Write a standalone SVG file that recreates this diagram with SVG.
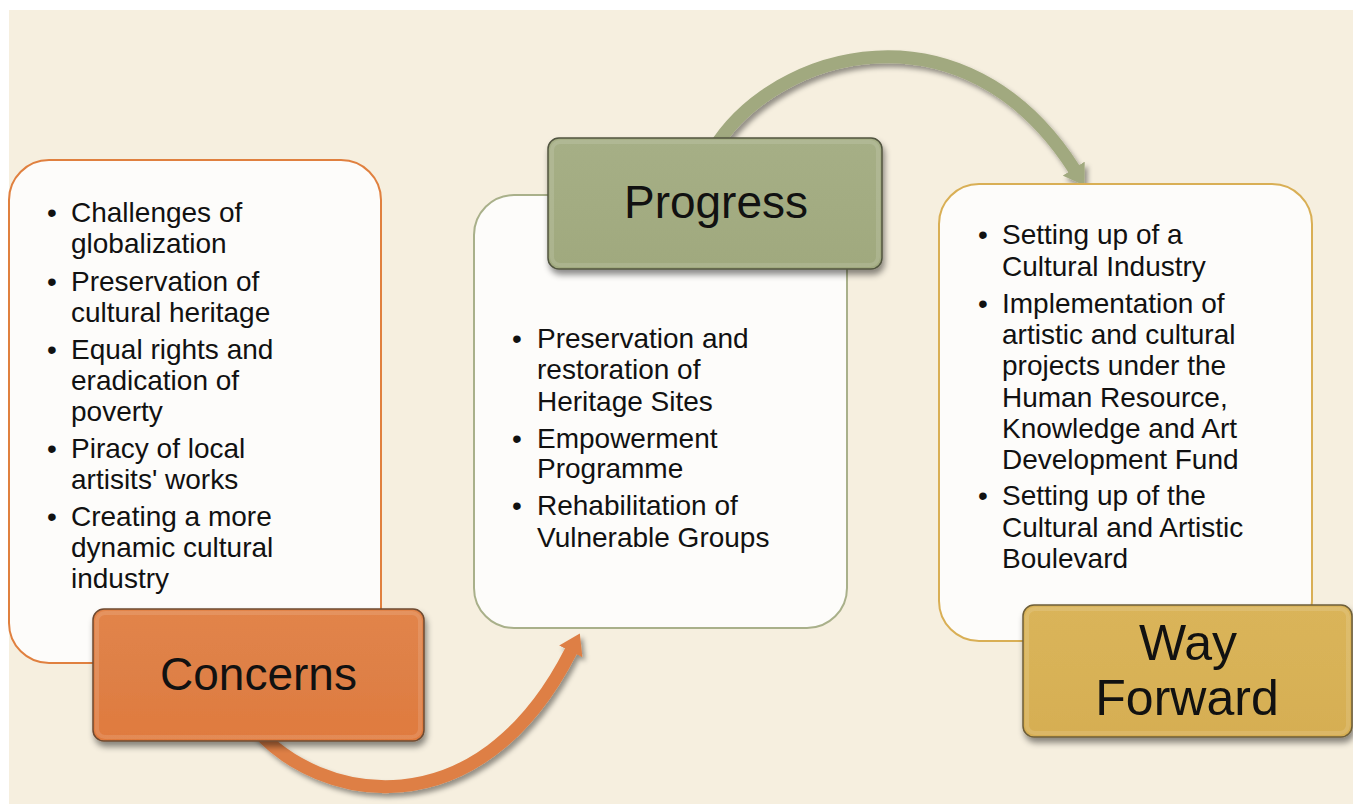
<svg xmlns="http://www.w3.org/2000/svg" width="1353" height="806" viewBox="0 0 1353 806">
<defs>
<style>
.panel{fill:#FDFCFA;stroke-width:2}
.item{font-family:"Liberation Sans",Arial,sans-serif;font-size:28px;fill:#111}
.lbl{font-family:"Liberation Sans",Arial,sans-serif;font-size:46px;fill:#111;text-anchor:middle}
.bevel{fill:none;stroke:#ffffff;stroke-opacity:0.12;stroke-width:4}
.conn{fill:none;stroke-width:13;stroke-linecap:butt}
</style>
<filter id="shadow" x="-20%" y="-20%" width="140%" height="150%">
<feDropShadow dx="2" dy="5" stdDeviation="3" flood-color="#000" flood-opacity="0.45"/>
</filter>
<filter id="ashadow" x="-20%" y="-20%" width="140%" height="140%">
<feDropShadow dx="3" dy="4" stdDeviation="2.5" flood-color="#000" flood-opacity="0.4"/>
</filter>
<linearGradient id="gOr" x1="0" y1="0" x2="0" y2="1">
<stop offset="0" stop-color="#E2844A"/><stop offset="0.5" stop-color="#DE8046"/><stop offset="1" stop-color="#E07A3E"/>
</linearGradient>
<linearGradient id="gGr" x1="0" y1="0" x2="0" y2="1">
<stop offset="0" stop-color="#A6AF86"/><stop offset="0.5" stop-color="#A3AC82"/><stop offset="1" stop-color="#A0A97E"/>
</linearGradient>
<linearGradient id="gGo" x1="0" y1="0" x2="0" y2="1">
<stop offset="0" stop-color="#DAB45A"/><stop offset="0.5" stop-color="#D8B257"/><stop offset="1" stop-color="#D6AE52"/>
</linearGradient>
<marker id="headOr" viewBox="0 0 20 26" refX="0.5" refY="13" markerWidth="20" markerHeight="26" markerUnits="userSpaceOnUse" orient="auto">
<path d="M0,0 L20,13 L0,26 Z" fill="#DE7F45"/>
</marker>
<marker id="headGr" viewBox="0 0 20 26" refX="0.5" refY="13" markerWidth="20" markerHeight="26" markerUnits="userSpaceOnUse" orient="auto">
<path d="M0,0 L20,13 L0,26 Z" fill="#A1A97F"/>
</marker>
</defs>

<rect x="0" y="0" width="1353" height="806" fill="#FFFFFF"/>
<rect x="9" y="10" width="1344" height="794" fill="#F6EFDF"/>

<g id="connectors">
<path class="conn" d="M255,728 C318,802 478,834 571,651" stroke="#DE7F45" marker-end="url(#headOr)" filter="url(#ashadow)"/>
<path class="conn" d="M713,150 C775,48 965,-2 1074,169" stroke="#A1A97F" marker-end="url(#headGr)" filter="url(#ashadow)"/>
</g>

<g id="concerns">
<rect class="panel" x="9" y="160" width="372" height="503" rx="40" stroke="#E0803F"/>
<g class="item">
<text x="47" y="222">•</text>
<text x="71" y="222">Challenges of</text>
<text x="71" y="253">globalization</text>
<text x="47" y="291">•</text>
<text x="71" y="291">Preservation of</text>
<text x="71" y="322">cultural heritage</text>
<text x="47" y="359">•</text>
<text x="71" y="359">Equal rights and</text>
<text x="71" y="390">eradication of</text>
<text x="71" y="421">poverty</text>
<text x="47" y="458">•</text>
<text x="71" y="458">Piracy of local</text>
<text x="71" y="489">artisits' works</text>
<text x="47" y="526">•</text>
<text x="71" y="526">Creating a more</text>
<text x="71" y="557">dynamic cultural</text>
<text x="71" y="588">industry</text>
</g>
<rect x="93" y="609" width="331" height="132" rx="11" fill="url(#gOr)" stroke="#6E4A30" stroke-width="1.5" filter="url(#shadow)"/>
<rect class="bevel" x="97" y="613" width="323" height="124" rx="8"/>
<text class="lbl" x="258.5" y="690">Concerns</text>
</g>

<g id="progress">
<rect class="panel" x="474" y="195" width="373" height="433" rx="40" stroke="#A9B08A"/>
<g class="item">
<text x="512" y="348">•</text>
<text x="537" y="348">Preservation and</text>
<text x="537" y="379">restoration of</text>
<text x="537" y="411">Heritage Sites</text>
<text x="512" y="448">•</text>
<text x="537" y="448">Empowerment</text>
<text x="537" y="478">Programme</text>
<text x="512" y="515">•</text>
<text x="537" y="515">Rehabilitation of</text>
<text x="537" y="547">Vulnerable Groups</text>
</g>
<rect x="548" y="138" width="334" height="131" rx="11" fill="url(#gGr)" stroke="#51543F" stroke-width="1.5" filter="url(#shadow)"/>
<rect class="bevel" x="552" y="142" width="326" height="123" rx="8"/>
<text class="lbl" x="716" y="218">Progress</text>
</g>

<g id="way-forward">
<rect class="panel" x="939" y="184" width="373" height="457" rx="40" stroke="#D9AF55"/>
<g class="item">
<text x="978" y="244">•</text>
<text x="1002" y="244">Setting up of a</text>
<text x="1002" y="276">Cultural Industry</text>
<text x="978" y="313">•</text>
<text x="1002" y="313">Implementation of</text>
<text x="1002" y="344">artistic and cultural</text>
<text x="1002" y="375">projects under the</text>
<text x="1002" y="407">Human Resource,</text>
<text x="1002" y="438">Knowledge and Art</text>
<text x="1002" y="469">Development Fund</text>
<text x="978" y="505">•</text>
<text x="1002" y="505">Setting up of the</text>
<text x="1002" y="537">Cultural and Artistic</text>
<text x="1002" y="568">Boulevard</text>
</g>
<rect x="1023" y="605" width="329" height="132" rx="11" fill="url(#gGo)" stroke="#6E5E38" stroke-width="1.5" filter="url(#shadow)"/>
<rect class="bevel" x="1027" y="609" width="321" height="124" rx="8"/>
<text class="lbl" x="1188" y="660" style="font-size:50px">Way</text>
<text class="lbl" x="1187" y="715" style="font-size:50px">Forward</text>
</g>
</svg>
